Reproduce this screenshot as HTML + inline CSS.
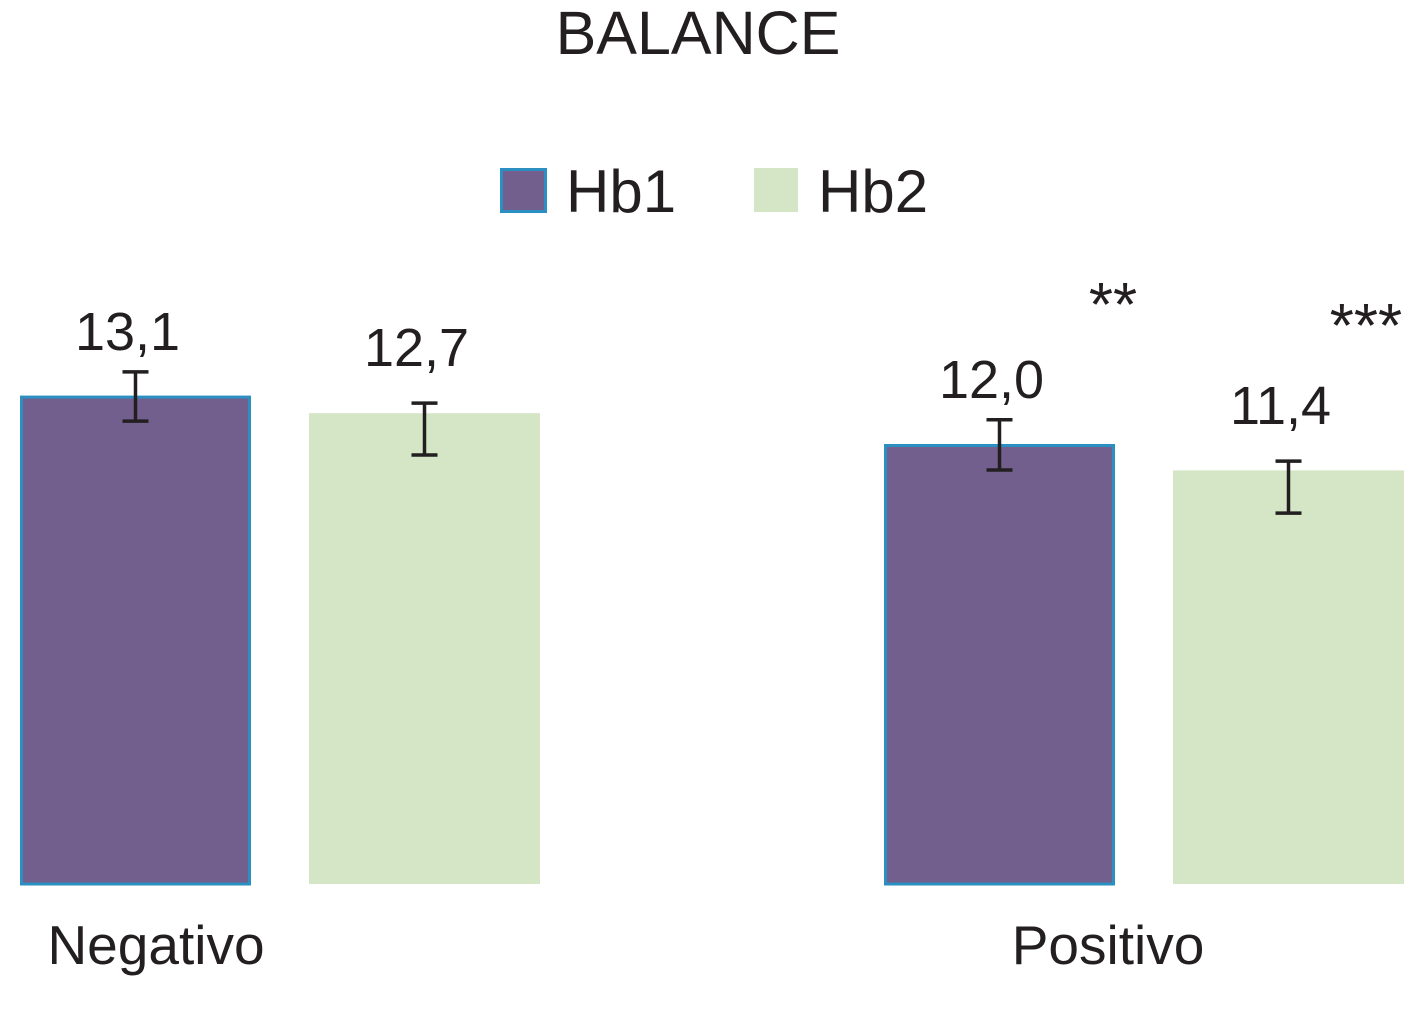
<!DOCTYPE html>
<html><head><meta charset="utf-8"><style>
body{margin:0;background:#fff;}
svg{display:block;font-family:"Liberation Sans",Arial,sans-serif;fill:#231f20;}
</style></head><body>
<svg id="chart" width="1417" height="1010" viewBox="0 0 1417 1010" xmlns="http://www.w3.org/2000/svg">
<text x="698" y="54" font-size="61" text-anchor="middle">BALANCE</text>
<g>
<rect x="501.5" y="169.5" width="44" height="42" fill="#735f8e" stroke="#2b8fc2" stroke-width="3"/>
<text x="566" y="212" font-size="60">Hb1</text>
<rect x="754" y="168" width="44" height="44" fill="#d4e6c5"/>
<text x="818" y="212" font-size="60">Hb2</text>
</g>
<g id="marks"></g>
</svg>
<script>
const categories = ["Negativo", "Positivo"];
const hb1Values = [13.1, 12.0];
const hb2Values = [12.7, 11.4];
const hb1ErrLow = [12.52, 11.41];
const hb1ErrHigh = [13.64, 12.55];
const hb2ErrLow = [11.75, 10.43];
const hb2ErrHigh = [12.93, 11.61];
const hb1Labels = ["13,1", "12,0"];
const hb2Labels = ["12,7", "11,4"];
const hb1Stars = ["", "**"];
const hb2Stars = ["", "***"];

const NS = "http://www.w3.org/2000/svg";
const g = document.getElementById("marks");
const baseY = 884, vMin = 2, pxPerUnit = 44;
function y(v){ return baseY - (v - vMin) * pxPerUnit; }
const groupX = [20, 884], barW = 231, gap = 58;
function barX(ci, si){ return groupX[ci] + si * (barW + gap); }
function mk(tag, attrs){ const e = document.createElementNS(NS, tag); for (const k in attrs) e.setAttribute(k, attrs[k]); g.appendChild(e); return e; }

const series = [
  {vals: hb1Values, lo: hb1ErrLow, hi: hb1ErrHigh, labels: hb1Labels, stars: hb1Stars, fill: "#735f8e", stroke: "#2b8fc2", name: "hb1", lblOff: 22, starOff: 94, starDx: -2},
  {vals: hb2Values, lo: hb2ErrLow, hi: hb2ErrHigh, labels: hb2Labels, stars: hb2Stars, fill: "#d4e6c5", stroke: null, name: "hb2", lblOff: 37, starOff: 114, starDx: -38}
];
categories.forEach((cat, ci) => {
  series.forEach((s, si) => {
    const x = barX(ci, si), top = y(s.vals[ci]);
    const r = mk("rect", s.stroke ? {x: x + 1.5, y: top + 1.5, width: barW - 3, height: baseY - top - 1.5, fill: s.fill, stroke: s.stroke, "stroke-width": 3}
                                   : {x: x, y: top, width: barW, height: baseY - top, fill: s.fill});
    
    
    const cx = x + barW / 2, yl = y(s.lo[ci]), yh = y(s.hi[ci]);
    const eb = mk("path", {d: `M${cx-13},${yh}H${cx+13}M${cx},${yh}V${yl}M${cx-13},${yl}H${cx+13}`, stroke: "#231f20", "stroke-width": 3.5, fill: "none"});
    
    
    const t = mk("text", {x: cx - 8, y: yh - s.lblOff, "font-size": 54, "text-anchor": "middle"});
    t.textContent = s.labels[ci];
    
    
    if (s.stars[ci]) {
      const st = mk("text", {x: x + barW + s.starDx, y: yh - s.starOff, "font-size": 62, "text-anchor": "middle"});
      st.textContent = s.stars[ci];
      
      
    }
  });
  const cl = mk("text", {x: groupX[ci] + (ci ? 224 : 136), y: 964, "font-size": 55, "text-anchor": "middle"});
  cl.textContent = cat;
  
  
});
</script>
</body></html>
